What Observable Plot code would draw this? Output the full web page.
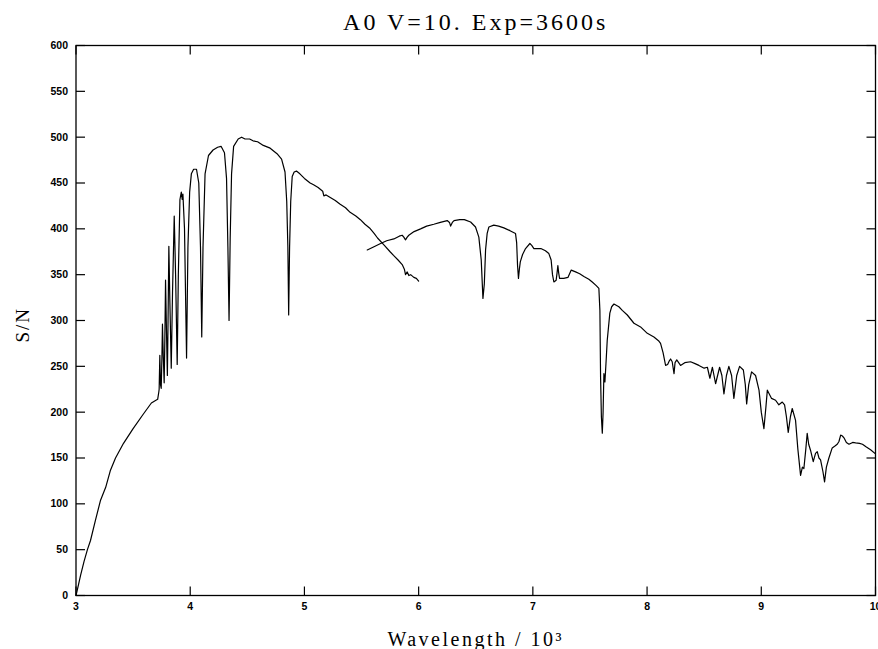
<!DOCTYPE html>
<html><head><meta charset="utf-8">
<script src="https://cdn.jsdelivr.net/npm/d3@7"></script>
<script src="https://cdn.jsdelivr.net/npm/@observablehq/plot@0.6"></script>
<style>html,body{margin:0;padding:0;background:#fff} svg{display:block}</style>
</head><body><div id="chart"></div>
<script>
// Blue arm (wavelength in 10^3 units, S/N)
const blueWave = [3.000,3.015,3.04,3.07,3.10,3.127,3.17,3.215,3.26,3.30,3.346,3.416,3.50,3.59,3.66,3.70,3.715,3.725,
  3.728,3.734,3.740,3.746,3.752,3.757,3.764,3.772,3.778,3.784,3.792,3.800,3.806,3.813,3.822,3.834,3.845,3.860,3.872,3.886,
  3.896,3.910,3.922,3.930,3.936,3.950,3.968,3.980,3.995,4.010,4.030,4.055,4.075,4.090,4.101,4.112,4.13,4.16,4.20,4.24,4.27,
  4.30,4.318,4.330,4.340,4.350,4.362,4.38,4.42,4.45,4.48,4.52,4.55,4.59,4.64,4.70,4.76,4.80,4.83,4.845,4.855,4.862,4.870,
  4.880,4.893,4.91,4.93,4.96,5.00,5.05,5.08,5.12,5.16,5.17,5.19,5.23,5.27,5.31,5.36,5.40,5.45,5.49,5.53,5.57,5.61,5.64,
  5.70,5.75,5.78,5.82,5.856,5.875,5.885,5.90,5.914,5.93,5.958,5.98,6.00];
const blueSN = [0,8,22,37,50,60,82,104,118,136,150,166,182,198,210,213,214,222,
  225,262,230,226,258,296,262,232,280,344,290,240,300,381,320,248,330,414,350,252,
  350,432,440,432,438,400,259,380,440,460,465,465,450,380,282,380,460,480,486,489,490,
  483,455,380,300,390,460,490,498,500,498,498,496,495,491,488,482,476,462,430,380,306,380,
  430,457,462,463,460,455,450,448,445,441,436,437,434,431,427,423,418,414,410,405,401,395,390,
  382,375,371,366,361,356,350,353,349,350,347,346,343];
// Red arm
const redWave = [5.55,5.60,5.667,5.72,5.783,5.83,5.856,5.87,5.885,5.90,5.914,5.96,6.017,6.07,6.133,6.19,6.25,6.27,6.28,6.295,
  6.31,6.36,6.40,6.455,6.498,6.527,6.548,6.563,6.575,6.586,6.60,6.615,6.658,6.70,6.746,6.80,6.848,6.858,6.866,6.874,6.882,
  6.89,6.91,6.936,6.974,6.99,7.009,7.07,7.11,7.14,7.16,7.172,7.184,7.204,7.212,7.219,7.226,7.234,7.271,7.307,7.336,7.374,
  7.41,7.447,7.49,7.52,7.555,7.578,7.587,7.593,7.600,7.608,7.615,7.622,7.631,7.641,7.651,7.674,7.69,7.71,7.753,7.783,7.827,
  7.885,7.943,8.002,8.06,8.10,8.118,8.14,8.162,8.18,8.195,8.206,8.22,8.236,8.245,8.26,8.293,8.33,8.381,8.42,8.454,8.50,
  8.528,8.55,8.572,8.60,8.635,8.655,8.673,8.695,8.716,8.74,8.76,8.785,8.81,8.843,8.86,8.872,8.89,8.915,8.95,8.98,9.00,
  9.023,9.04,9.053,9.09,9.125,9.154,9.184,9.204,9.22,9.236,9.255,9.271,9.30,9.32,9.344,9.36,9.373,9.39,9.402,9.415,9.431,
  9.455,9.475,9.49,9.505,9.519,9.54,9.554,9.57,9.592,9.621,9.645,9.665,9.68,9.695,9.71,9.724,9.745,9.768,9.80,9.826,9.86,
  9.886,9.92,9.957,10.0];
const redSN = [377,380,384,387,389,392,393,391,388,391,393,397,400,403,405,407,409,407,403,407,
  409,410,410,407.5,402,391,366,324,340,377,395,402,404,403,401,398,395,385,360,346,356,
  364,372,378.5,384,382,378.5,378.5,376,373,366,350,342,344,352,360,352,346,346,347,355,353,
  351,348,345,342,338,335,311,238,195,177,200,242,233,255,278,308,315,318,315,311,306,
  297,293,286,282,278,275,265,251,252,256,258,255,242,254,257,251,254,255,253,251,248,
  249,237,249,231,249,240,220,240,250,240,215,240,250,246,230,209,230,244,240,224,200,
  182,205,224,215,213,208,211,208,195,178,195,204,191,160,131,140,138.5,160,177,165,158.5,
  146,155,157,150,148,135,124,140,150,161,163,165,168,175,174,172,167,165,167,166.5,166,
  165,162,159,154.5];

const xTicks = [3,4,5,6,7,8,9,10];
const yTicks = [0,50,100,150,200,250,300,350,400,450,500,550,600];
const titleText = "A0 V=10. Exp=3600s";
const xLabel = "Wavelength / 10³";
const yLabel = "S/N";

const blue = blueWave.map((w, i) => ({w, sn: blueSN[i]}));
const red = redWave.map((w, i) => ({w, sn: redSN[i]}));

const W = 878, H = 649, mL = 75.5, mR = 3, mT = 45, mB = 54;
const fw = W - mL - mR, fh = H - mT - mB, tl = 9;
const xDom = [xTicks[0], xTicks[xTicks.length - 1]];
const yDom = [yTicks[0], yTicks[yTicks.length - 1]];
// tick length (pixels) expressed in each scale's units
const tdx = (xDom[1] - xDom[0]) * tl / fw;
const tdy = (yDom[1] - yDom[0]) * tl / fh;
const serif = "'Liberation Serif', 'DejaVu Serif', serif";
const fmt = d => String(d);
const xt = xTicks.map(v => ({v}));
const yt = yTicks.map(v => ({v}));
const tickStyle = {stroke: "#000", strokeWidth: 1.2};

const chart = Plot.plot({
  width: W, height: H,
  marginLeft: mL, marginRight: mR, marginTop: mT, marginBottom: mB,
  style: {background: "#fff", color: "#000", fontFamily: "'Liberation Sans', Arial, sans-serif"},
  x: {domain: xDom},
  y: {domain: yDom},
  marks: [
    // inward ticks on all four sides
    Plot.link(xt, {x1: "v", x2: "v", y1: () => yDom[0], y2: () => yDom[0] + tdy, ...tickStyle}),
    Plot.link(xt, {x1: "v", x2: "v", y1: () => yDom[1] - tdy, y2: () => yDom[1], ...tickStyle}),
    Plot.link(yt, {y1: "v", y2: "v", x1: () => xDom[0], x2: () => xDom[0] + tdx, ...tickStyle}),
    Plot.link(yt, {y1: "v", y2: "v", x1: () => xDom[1] - tdx, x2: () => xDom[1], ...tickStyle}),
    // tick labels
    Plot.axisX({anchor: "bottom", ticks: xTicks, tickFormat: fmt, tickSize: 0, tickPadding: 7, label: null, fontSize: 10.5, fontWeight: "bold"}),
    Plot.axisY({anchor: "left", ticks: yTicks, tickFormat: fmt, tickSize: 0, tickPadding: 8, label: null, fontSize: 10.5, fontWeight: "bold"}),
    Plot.line(blue, {x: "w", y: "sn", stroke: "#000", strokeWidth: 1.2}),
    Plot.line(red, {x: "w", y: "sn", stroke: "#000", strokeWidth: 1.2}),
    Plot.frame({stroke: "#000", strokeWidth: 1.3}),
    Plot.text([titleText], {frameAnchor: "top", lineAnchor: "bottom", dy: -16, fontSize: 24, fontFamily: serif, fill: "#000"}),
    Plot.text([xLabel], {frameAnchor: "bottom", lineAnchor: "bottom", dy: 50, fontSize: 20, fontFamily: serif, fill: "#000"}),
    Plot.text([yLabel], {frameAnchor: "left", rotate: -90, dx: -53, dy: 22, fontSize: 19, fontFamily: serif, fill: "#000"})
  ]
});
document.getElementById("chart").appendChild(chart);
chart.querySelectorAll("text").forEach(t => {
  const s = t.textContent;
  if (s === titleText) t.setAttribute("letter-spacing", "3");
  else if (s === xLabel) t.setAttribute("letter-spacing", "2.5");
  else if (s === yLabel) t.setAttribute("letter-spacing", "2");
});
</script>
</body></html>
